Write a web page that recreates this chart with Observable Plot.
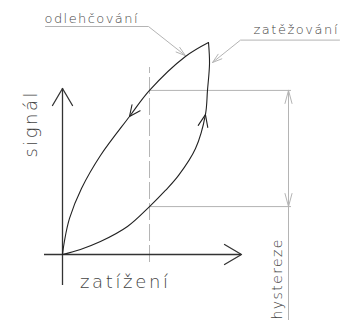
<!DOCTYPE html>
<html><head><meta charset="utf-8">
<script src="https://cdn.jsdelivr.net/npm/d3@7"></script>
<script src="https://cdn.jsdelivr.net/npm/@observablehq/plot@0.6"></script>
<style>html,body{margin:0;padding:0;background:#fff;overflow:hidden}</style>
</head><body><div id="chart"></div>
<script>
// Loading branch (zatěžování), load % vs signal %
const loadX = [0, 12.3, 26.0, 44.5, 59.6, 70.5, 79.5, 91.1, 97.9, 99.3, 100.7, 100];
const loadY = [0, 2.4, 6.1, 13.2, 22.6, 30.2, 37.3, 50.0, 66.0, 77.4, 90.1, 100];
// Unloading branch (odlehčování)
const unloadX = [100, 84.2, 59.6, 45.9, 26.0, 13.0, 4.8, 1.4, 0];
const unloadY = [100, 93.4, 77.4, 65.1, 46.7, 31.1, 17.0, 6.6, 0];
// Hysteresis read-out at a given load
const hystLoad = 59.6;
const hystSignals = [77.4, 22.6];
// Text labels
const axisLabels = ["zatížení", "signál"];
const branchLabels = ["odlehčování", "zatěžování"];
const hystLabel = ["hystereze"];

// Scale layout
const X_DOM = [0, 100], X_RNG = [62, 208];
const Y_DOM = [0, 100], Y_RNG = [254, 42];
const kx = (X_RNG[1] - X_RNG[0]) / (X_DOM[1] - X_DOM[0]);
const ky = (Y_RNG[1] - Y_RNG[0]) / (Y_DOM[1] - Y_DOM[0]);
const px = (dx) => dx / kx, py = (dy) => dy / ky;

const AX = {x0: px(44 - 62), x1: px(241 - 62), y0: py(285 - 254), y1: py(88 - 254)};
const DIM_X = px(288 - 62);
const GUIDE_END = px(291 - 62);

function chevron(id, tip, p0, p1, len, halfDeg) {
  const a = Math.atan2((p1[1] - p0[1]) * ky, (p1[0] - p0[0]) * kx);
  const h = halfDeg * Math.PI / 180;
  const w = [-1, 1].map(s => {
    const b = a + Math.PI + s * h;
    return {id, x: tip[0] + len * Math.cos(b) / kx, y: tip[1] + len * Math.sin(b) / ky};
  });
  return [w[0], {id, x: tip[0], y: tip[1]}, w[1]];
}

const loading = loadX.map((x, i) => ({x, y: loadY[i]}));
const unloading = unloadX.map((x, i) => ({x, y: unloadY[i]}));

// leader lines
const leaderOdl = [
  {x: px(45 - 62), y: py(26 - 254)},
  {x: px(148 - 62), y: py(26 - 254)},
  {x: unloadX[1], y: unloadY[1] + 0.4}
];
const leaderZat = [
  {x: px(339 - 62), y: py(39.6 - 254)},
  {x: px(240 - 62), y: py(39.6 - 254)},
  {x: px(212 - 62), y: py(62 - 254)}
];
const lt = (a) => [a.x, a.y];

const axisHeads = [
  ...chevron("ax", [AX.x1, 0], [0, 0], [AX.x1, 0], 19.7, 30.5),
  ...chevron("ay", [0, AX.y1], [0, 0], [0, AX.y1], 19.7, 30.5)
];
const curveHeads = [
  ...chevron("u", [unloadX[3], unloadY[3]], [unloadX[2], unloadY[2]], [unloadX[4], unloadY[4]], 12, 25),
  ...chevron("l", [loadX[8], loadY[8]], [loadX[7], loadY[7]], [loadX[9], loadY[9]], 13, 22)
];
const guideHeads = [
  ...chevron("d1", [DIM_X, hystSignals[0]], [DIM_X, hystSignals[1]], [DIM_X, hystSignals[0]], 13.5, 15),
  ...chevron("d2", [DIM_X, hystSignals[1]], [DIM_X, hystSignals[0]], [DIM_X, hystSignals[1]], 13.5, 15),
  ...chevron("lo", lt(leaderOdl[2]), lt(leaderOdl[1]), lt(leaderOdl[2]), 10, 17),
  ...chevron("lz", lt(leaderZat[2]), lt(leaderZat[1]), lt(leaderZat[2]), 10, 17)
];

const FONT = "DejaVu Sans";
const TXT = "#444";
const GUIDE = "#b4b4b4";

const chart = Plot.plot({
  width: 344, height: 320, margin: 0,
  style: {background: "#fff", fontFamily: FONT},
  x: {domain: X_DOM, range: X_RNG, axis: null},
  y: {domain: Y_DOM, range: Y_RNG, axis: null},
  marks: [
    // guides
    Plot.ruleX([hystLoad], {y1: py(262 - 254), y2: py(67 - 254), stroke: GUIDE, strokeWidth: 1, strokeDasharray: "17,4"}),
    Plot.ruleY(hystSignals, {x1: hystLoad, x2: GUIDE_END, stroke: GUIDE, strokeWidth: 1}),
    Plot.ruleX([DIM_X], {y1: py(322 - 254), y2: hystSignals[0], stroke: GUIDE, strokeWidth: 1}),
    Plot.line(leaderOdl, {x: "x", y: "y", stroke: GUIDE, strokeWidth: 1}),
    Plot.line(leaderZat, {x: "x", y: "y", stroke: GUIDE, strokeWidth: 1}),
    Plot.line(guideHeads, {x: "x", y: "y", z: "id", stroke: GUIDE, strokeWidth: 1}),
    // axes
    Plot.ruleY([0], {x1: AX.x0, x2: AX.x1, stroke: "#333", strokeWidth: 1.3}),
    Plot.ruleX([0], {y1: AX.y0, y2: AX.y1, stroke: "#333", strokeWidth: 1.3}),
    Plot.line(axisHeads, {x: "x", y: "y", z: "id", stroke: "#333", strokeWidth: 1.3}),
    // hysteresis loop
    Plot.line(loading, {x: "x", y: "y", curve: "catmull-rom", stroke: "#222", strokeWidth: 1.1}),
    Plot.line(unloading, {x: "x", y: "y", curve: "catmull-rom", stroke: "#222", strokeWidth: 1.1}),
    Plot.line(curveHeads, {x: "x", y: "y", z: "id", stroke: "#222", strokeWidth: 1.1}),
    // labels
    Plot.text([axisLabels[0]], {x: px(79.5 - 62), y: py(287.5 - 254), text: d => d, textAnchor: "start", lineAnchor: "bottom", fontSize: 18, fill: TXT, fontWeight: 300}),
    Plot.text([axisLabels[1]], {x: px(36 - 62), y: py(124.5 - 254), text: d => d, rotate: -90, textAnchor: "middle", lineAnchor: "bottom", fontSize: 18, fill: TXT, fontWeight: 300}),
    Plot.text([branchLabels[0]], {x: px(44 - 62), y: py(22 - 254), text: d => d, textAnchor: "start", lineAnchor: "bottom", fontSize: 13, fill: TXT, fontWeight: 300}),
    Plot.text([branchLabels[1]], {x: px(253 - 62), y: py(33.5 - 254), text: d => d, textAnchor: "start", lineAnchor: "bottom", fontSize: 13, fill: TXT, fontWeight: 300}),
    Plot.text(hystLabel, {x: px(281 - 62), y: py(319 - 254), text: d => d, rotate: -90, textAnchor: "start", lineAnchor: "bottom", fontSize: 14, fill: TXT, fontWeight: 300})
  ]
});

// stretch label tracking to match the drawing's spaced technical lettering
const widths = {"zatížení": 88, "signál": 65, "odlehčování": 93, "zatěžování": 84, "hystereze": 80};
chart.querySelectorAll("text").forEach(t => {
  const w = widths[t.textContent.trim()];
  if (w) { t.setAttribute("textLength", w); t.setAttribute("lengthAdjust", "spacing"); }
});
document.getElementById("chart").appendChild(chart);
</script>
</body></html>
